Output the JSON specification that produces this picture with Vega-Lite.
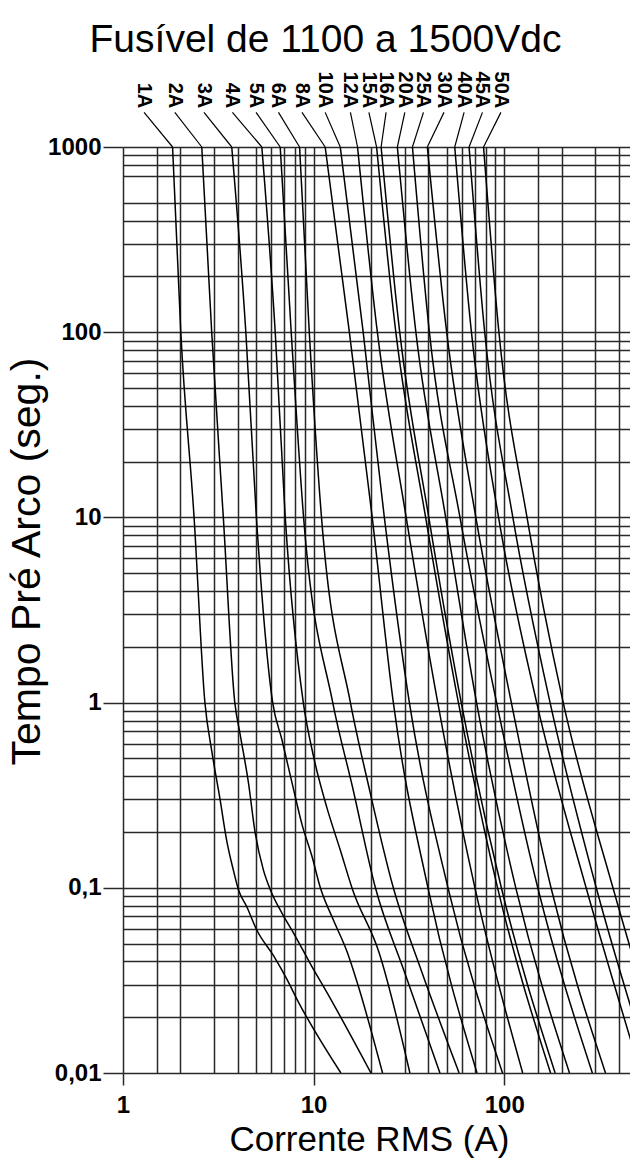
{
  "$schema": "https://vega.github.io/schema/vega-lite/v6.json",
  "width": 507,
  "height": 926,
  "autosize": {"type": "none"},
  "padding": {"left": 123, "top": 147, "right": 0, "bottom": 86},
  "background": "white",
  "title": {"text": "Fusível de 1100 a 1500Vdc", "font": "Liberation Sans", "fontSize": 39, "fontWeight": "normal", "color": "black", "anchor": "middle", "dx": -51, "offset": 12},
  "config": {"view": {"stroke": null}},
  "datasets": {
    "curves": [
      {"fuse":"1A","I":1.82,"t":1000},{"fuse":"1A","I":2.01,"t":100},{"fuse":"1A","I":2.36,"t":10},{"fuse":"1A","I":2.69,"t":1},{"fuse":"1A","I":2.92,"t":0.55},{"fuse":"1A","I":3.23,"t":0.3},{"fuse":"1A","I":3.5,"t":0.18},{"fuse":"1A","I":3.79,"t":0.125},{"fuse":"1A","I":4.03,"t":0.098},{"fuse":"1A","I":4.46,"t":0.079},{"fuse":"1A","I":5.04,"t":0.059},{"fuse":"1A","I":6.16,"t":0.043},{"fuse":"1A","I":7.25,"t":0.032},{"fuse":"1A","I":8.18,"t":0.025},{"fuse":"1A","I":13.9,"t":0.01},
      {"fuse":"2A","I":2.59,"t":1000},{"fuse":"2A","I":2.92,"t":100},{"fuse":"2A","I":3.36,"t":10},{"fuse":"2A","I":3.86,"t":1},{"fuse":"2A","I":4.11,"t":0.68},{"fuse":"2A","I":4.55,"t":0.37},{"fuse":"2A","I":4.93,"t":0.2},{"fuse":"2A","I":5.45,"t":0.125},{"fuse":"2A","I":5.92,"t":0.098},{"fuse":"2A","I":6.82,"t":0.073},{"fuse":"2A","I":7.85,"t":0.057},{"fuse":"2A","I":9.6,"t":0.039},{"fuse":"2A","I":11.8,"t":0.027},{"fuse":"2A","I":20,"t":0.01},
      {"fuse":"3A","I":3.72,"t":1000},{"fuse":"3A","I":4.41,"t":100},{"fuse":"3A","I":5.01,"t":10},{"fuse":"3A","I":6.1,"t":1},{"fuse":"3A","I":6.82,"t":0.63},{"fuse":"3A","I":7.7,"t":0.37},{"fuse":"3A","I":8.69,"t":0.22},{"fuse":"3A","I":9.82,"t":0.147},{"fuse":"3A","I":10.85,"t":0.1},{"fuse":"3A","I":12.7,"t":0.067},{"fuse":"3A","I":15,"t":0.045},{"fuse":"3A","I":16.9,"t":0.031},{"fuse":"3A","I":23,"t":0.01},
      {"fuse":"4A","I":5.35,"t":1000},{"fuse":"4A","I":6.29,"t":100},{"fuse":"4A","I":7.1,"t":10},{"fuse":"4A","I":8.83,"t":1},{"fuse":"4A","I":10,"t":0.51},{"fuse":"4A","I":11.75,"t":0.27},{"fuse":"4A","I":13.8,"t":0.16},{"fuse":"4A","I":16,"t":0.098},{"fuse":"4A","I":22,"t":0.045},{"fuse":"4A","I":32,"t":0.01},
      {"fuse":"5A","I":6.68,"t":1000},{"fuse":"5A","I":7.63,"t":100},{"fuse":"5A","I":8.86,"t":10},{"fuse":"5A","I":12.6,"t":1},{"fuse":"5A","I":16,"t":0.35},{"fuse":"5A","I":21.1,"t":0.1},{"fuse":"5A","I":30,"t":0.035},{"fuse":"5A","I":46,"t":0.01},
      {"fuse":"6A","I":8.44,"t":1000},{"fuse":"6A","I":9.49,"t":100},{"fuse":"6A","I":11,"t":10},{"fuse":"6A","I":15.6,"t":1},{"fuse":"6A","I":19.5,"t":0.35},{"fuse":"6A","I":26.2,"t":0.1},{"fuse":"6A","I":37,"t":0.035},{"fuse":"6A","I":58,"t":0.01},
      {"fuse":"8A","I":11.5,"t":1000},{"fuse":"8A","I":15.4,"t":100},{"fuse":"8A","I":20.3,"t":10},{"fuse":"8A","I":26.2,"t":1},{"fuse":"8A","I":39.8,"t":0.1},{"fuse":"8A","I":72,"t":0.01},
      {"fuse":"10A","I":13.8,"t":1000},{"fuse":"10A","I":18.2,"t":100},{"fuse":"10A","I":23.5,"t":10},{"fuse":"10A","I":31.8,"t":1},{"fuse":"10A","I":50.7,"t":0.1},{"fuse":"10A","I":98,"t":0.01},
      {"fuse":"12A","I":17,"t":1000},{"fuse":"12A","I":21.6,"t":100},{"fuse":"12A","I":30.6,"t":10},{"fuse":"12A","I":44.8,"t":1},{"fuse":"12A","I":70.2,"t":0.1},{"fuse":"12A","I":125,"t":0.01},
      {"fuse":"15A","I":21.4,"t":1000},{"fuse":"15A","I":27,"t":100},{"fuse":"15A","I":38.7,"t":10},{"fuse":"15A","I":57.5,"t":1},{"fuse":"15A","I":92.3,"t":0.1},{"fuse":"15A","I":175,"t":0.01},
      {"fuse":"16A","I":22.6,"t":1000},{"fuse":"16A","I":28.3,"t":100},{"fuse":"16A","I":40.2,"t":10},{"fuse":"16A","I":59.5,"t":1},{"fuse":"16A","I":96.6,"t":0.1},{"fuse":"16A","I":185,"t":0.01},
      {"fuse":"20A","I":27.5,"t":1000},{"fuse":"20A","I":34.4,"t":100},{"fuse":"20A","I":49.3,"t":10},{"fuse":"20A","I":71.6,"t":1},{"fuse":"20A","I":115,"t":0.1},{"fuse":"20A","I":220,"t":0.01},
      {"fuse":"25A","I":33,"t":1000},{"fuse":"25A","I":40.5,"t":100},{"fuse":"25A","I":58.6,"t":10},{"fuse":"25A","I":91.2,"t":1},{"fuse":"25A","I":150,"t":0.1},{"fuse":"25A","I":290,"t":0.01},
      {"fuse":"30A","I":39.5,"t":1000},{"fuse":"30A","I":49.9,"t":100},{"fuse":"30A","I":71,"t":10},{"fuse":"30A","I":109,"t":1},{"fuse":"30A","I":176,"t":0.1},{"fuse":"30A","I":340,"t":0.01},
      {"fuse":"40A","I":55,"t":1000},{"fuse":"40A","I":67.3,"t":100},{"fuse":"40A","I":93.4,"t":10},{"fuse":"40A","I":148,"t":1},{"fuse":"40A","I":269,"t":0.1},{"fuse":"40A","I":520,"t":0.01},
      {"fuse":"45A","I":65.4,"t":1000},{"fuse":"45A","I":79,"t":100},{"fuse":"45A","I":111,"t":10},{"fuse":"45A","I":174,"t":1},{"fuse":"45A","I":304,"t":0.1},{"fuse":"45A","I":590,"t":0.01},
      {"fuse":"50A","I":77.9,"t":1000},{"fuse":"50A","I":93.8,"t":100},{"fuse":"50A","I":131.7,"t":10},{"fuse":"50A","I":204,"t":1},{"fuse":"50A","I":372,"t":0.1},{"fuse":"50A","I":720,"t":0.01}
    ],
    "labels": [
      {"fuse":"1A","lx":1.29,"tx":1.82},
      {"fuse":"2A","lx":1.87,"tx":2.59},
      {"fuse":"3A","lx":2.66,"tx":3.72},
      {"fuse":"4A","lx":3.75,"tx":5.35},
      {"fuse":"5A","lx":4.99,"tx":6.68},
      {"fuse":"6A","lx":6.54,"tx":8.44},
      {"fuse":"8A","lx":8.69,"tx":11.5},
      {"fuse":"10A","lx":11.5,"tx":13.8},
      {"fuse":"12A","lx":15.6,"tx":17},
      {"fuse":"15A","lx":19.5,"tx":21.4},
      {"fuse":"16A","lx":24,"tx":22.6},
      {"fuse":"20A","lx":30.1,"tx":27.5},
      {"fuse":"25A","lx":37.7,"tx":33},
      {"fuse":"30A","lx":48.3,"tx":39.5},
      {"fuse":"40A","lx":61.6,"tx":55},
      {"fuse":"45A","lx":76.9,"tx":65.4},
      {"fuse":"50A","lx":96.1,"tx":77.9}
    ]
  },
  "layer": [
    {
      "data": {"name": "curves"},
      "mark": {"type": "line", "color": "black", "strokeWidth": 1.5, "interpolate": "monotone", "clip": true},
      "encoding": {
        "x": {
          "field": "I", "type": "quantitative",
          "scale": {"type": "log", "domain": [1, 457], "nice": false},
          "axis": {
            "values": [1,1.5,2,3,4,5,6,7,8,9,10,20,30,40,50,60,70,80,90,100,150,200,300,400],
            "grid": true, "gridColor": "#282828", "gridWidth": 1.5, "gridOpacity": 1,
            "domain": false,
            "tickColor": "#282828", "tickWidth": 1.5, "tickSize": 12,
            "tickOpacity": {"condition": {"test": "abs(log(datum.value)/LN10 - round(log(datum.value)/LN10)) < 0.001", "value": 1}, "value": 0},
            "labelExpr": "abs(log(datum.value)/LN10 - round(log(datum.value)/LN10)) < 0.001 ? toString(datum.value) : ''",
            "labelFont": "Liberation Sans", "labelFontWeight": "bold", "labelFontSize": 24, "labelColor": "black",
            "labelPadding": 8, "labelOverlap": false, "labelFlush": false, "labelBound": false,
            "title": "Corrente RMS (A)", "titleFont": "Liberation Sans", "titleFontSize": 35, "titleFontWeight": "normal", "titleColor": "black", "titlePadding": 5, "titleX": 246
          }
        },
        "y": {
          "field": "t", "type": "quantitative",
          "scale": {"type": "log", "domain": [0.01, 1000], "nice": false},
          "axis": {
            "values": [1000,900,800,700,500,400,300,200,100,90,80,70,60,50,40,30,20,10,9,8,7,6,5,4,3,2,1,0.9,0.8,0.7,0.6,0.5,0.4,0.3,0.2,0.1,0.09,0.08,0.07,0.06,0.05,0.04,0.03,0.02,0.01],
            "grid": true, "gridColor": "#282828", "gridWidth": 1.5, "gridOpacity": 1,
            "domain": false,
            "tickColor": "#282828", "tickWidth": 1.5, "tickSize": 20,
            "tickOpacity": {"condition": {"test": "abs(log(datum.value)/LN10 - round(log(datum.value)/LN10)) < 0.001", "value": 1}, "value": 0},
            "labelExpr": "abs(log(datum.value)/LN10 - round(log(datum.value)/LN10)) < 0.001 ? replace(toString(datum.value), '.', ',') : ''",
            "labelFont": "Liberation Sans", "labelFontWeight": "bold", "labelFontSize": 24, "labelColor": "black",
            "labelPadding": 2, "labelOverlap": false, "labelBound": false,
            "title": "Tempo Pré Arco (seg.)", "titleFont": "Liberation Sans", "titleFontSize": 41, "titleFontWeight": "normal", "titleColor": "black", "titleX": -75, "titleY": 414, "titleBaseline": "bottom", "titleAlign": "center", "titleAngle": 270
          }
        },
        "detail": {"field": "fuse"}
      }
    },
    {
      "data": {"name": "labels"},
      "mark": {"type": "rule", "color": "black", "strokeWidth": 1.2},
      "encoding": {
        "x": {"field": "lx", "type": "quantitative", "scale": {"type": "log", "domain": [1, 457], "nice": false}},
        "y": {"datum": 1538, "scale": {"type": "log", "domain": [0.01, 1000], "nice": false}},
        "x2": {"field": "tx"},
        "y2": {"datum": 1000}
      }
    },
    {
      "data": {"name": "labels"},
      "mark": {"type": "text", "angle": 90, "align": "right", "baseline": "middle", "font": "Liberation Sans", "fontWeight": "bold", "fontSize": 20, "color": "black"},
      "encoding": {
        "x": {"field": "lx", "type": "quantitative", "scale": {"type": "log", "domain": [1, 457], "nice": false}},
        "y": {"datum": 1618, "scale": {"type": "log", "domain": [0.01, 1000], "nice": false}},
        "text": {"field": "fuse"}
      }
    }
  ]
}
